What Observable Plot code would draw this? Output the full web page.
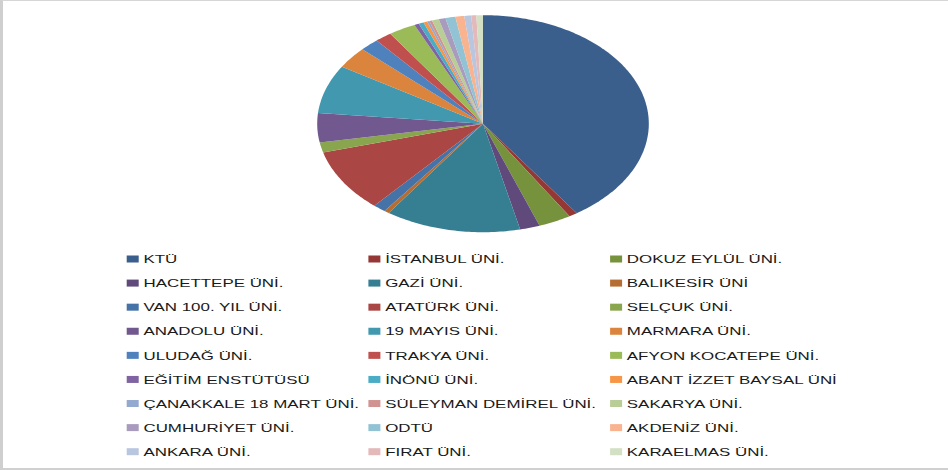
<!DOCTYPE html>
<html><head><meta charset="utf-8">
<script src="https://cdn.jsdelivr.net/npm/d3@7"></script>
<script src="https://cdn.jsdelivr.net/npm/@observablehq/plot@0.6"></script>
<style>
body{margin:0;background:#fff;}
#wrap{position:relative;width:948px;height:470px;overflow:hidden;background:#fff;}
#frame{position:absolute;left:0;top:0;width:948px;height:470px;box-sizing:border-box;border-left:3px solid #cfcfcf;border-top:1px solid #d6d6d6;border-bottom:2px solid #d0d0d0;z-index:2;pointer-events:none;}
#pie{position:absolute;left:0;top:0;}
#legend{position:absolute;left:0;top:240px;transform-origin:0 0;transform:scaleX(1.46);}
</style></head><body>
<div id="wrap"><div id="frame"></div><div id="pie"></div><div id="legend"></div></div>
<script>
const names = ["KTÜ","İSTANBUL ÜNİ.","DOKUZ EYLÜL ÜNİ.","HACETTEPE ÜNİ.","GAZİ ÜNİ.","BALIKESİR ÜNİ","VAN 100. YIL ÜNİ.","ATATÜRK ÜNİ.","SELÇUK ÜNİ.","ANADOLU ÜNİ.","19 MAYIS ÜNİ.","MARMARA ÜNİ.","ULUDAĞ ÜNİ.","TRAKYA ÜNİ.","AFYON KOCATEPE ÜNİ.","EĞİTİM ENSTÜTÜSÜ","İNÖNÜ ÜNİ.","ABANT İZZET BAYSAL ÜNİ","ÇANAKKALE 18 MART ÜNİ.","SÜLEYMAN DEMİREL ÜNİ.","SAKARYA ÜNİ.","CUMHURİYET ÜNİ.","ODTÜ","AKDENİZ ÜNİ.","ANKARA ÜNİ.","FIRAT ÜNİ.","KARAELMAS ÜNİ."];
const values = [145.5, 3.0, 11.5, 7.0, 47.6, 1.8, 4.5, 33.6, 5.4, 15.7, 26.0, 11.6, 6.8, 5.9, 9.6, 1.6, 1.8, 1.3, 0.8, 1.0, 2.4, 2.4, 3.5, 3.1, 2.4, 1.8, 2.3];
const colors = ["#3B5F8D","#953735","#76923C","#5F4A7B","#367F93","#B66D31",
  "#4572A7","#AA4643","#89A54E","#71588F","#4198AF","#DB843D",
  "#4F81BD","#C0504D","#9BBB59","#8064A2","#4BACC6","#F79646",
  "#93A9CF","#D19392","#B9CD96","#A99BBD","#92C3D4","#F9B38F",
  "#B8C6E0","#E4B9B9","#D3E0C3"];
const legendColumns = 3;

// pie slices as polygons (angles from d3.pie, clockwise from 12 o'clock)
const arcs = d3.pie().sort(null).value(d => d)(values);
const pts = [];
arcs.forEach((a, i) => {
  const n = Math.max(2, Math.ceil((a.endAngle - a.startAngle) / (Math.PI / 180)));
  pts.push({name: names[i], px: 0, py: 0});
  for (let k = 0; k <= n; k++) {
    const t = a.startAngle + (a.endAngle - a.startAngle) * k / n;
    pts.push({name: names[i], px: Math.sin(t), py: Math.cos(t)});
  }
});

const colorScale = {type: "ordinal", domain: names, range: colors};

const pie = Plot.plot({
  width: 948, height: 240, margin: 0,
  x: {domain: [-1, 1], range: [316.7, 648.3], axis: null},
  y: {domain: [-1, 1], range: [231.7, 14.7], axis: null},
  color: colorScale,
  marks: [
    Plot.line(pts, {x: "px", y: "py", z: "name", fill: "name", stroke: "none", curve: "linear"})
  ]
});
document.getElementById("pie").appendChild(pie);

const legendData = names.map((name, i) => ({name, col: i % legendColumns, row: Math.floor(i / legendColumns)}));
const s = 1.46;
const legend = Plot.plot({
  width: Math.round(948 / s), height: 230, margin: 0,
  style: {fontFamily: "'Liberation Sans', Arial, sans-serif", background: "transparent"},
  x: {domain: [0, 3], range: [126.7 / s, (126.7 + 3 * 241.7) / s], axis: null},
  y: {domain: [0, 8], range: [19, 211.7], axis: null},
  color: colorScale,
  marks: [
    Plot.rect(legendData, {x1: "col", x2: "col", y1: "row", y2: "row", fill: "name", insetLeft: 0, insetRight: -12 / s, insetTop: -3.5, insetBottom: -3.5}),
    Plot.text(legendData, {x: "col", y: "row", text: "name", dx: 16 / s, textAnchor: "start", lineAnchor: "middle", fill: "#1a1a1a", fontSize: 11.6})
  ]
});
document.getElementById("legend").appendChild(legend);
</script>
</body></html>
